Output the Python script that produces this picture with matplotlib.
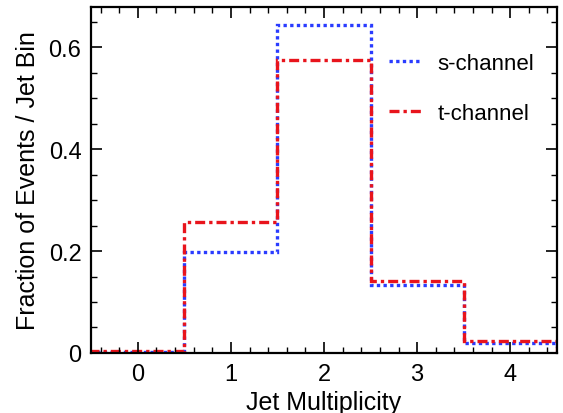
import matplotlib
matplotlib.use("Agg")
import matplotlib.pyplot as plt
import numpy as np
from matplotlib.ticker import MultipleLocator

plt.rcParams['font.family'] = ['Liberation Sans', 'DejaVu Sans']

jets = [0, 1, 2, 3, 4]
edges = [-0.5, 0.5, 1.5, 2.5, 3.5, 4.5]
s_channel = [0.002, 0.198, 0.644, 0.134, 0.020]
t_channel = [0.003, 0.257, 0.575, 0.141, 0.024]

fig = plt.figure(figsize=(5.63, 4.14), dpi=100)
ax = fig.add_axes([0.162, 0.145, 0.827, 0.836])

ax.stairs(s_channel, edges, color='#2a3cff', linestyle=(0, (1, 1)), linewidth=2.4, label='s-channel')
ax.stairs(t_channel, edges, color='#e8141c', linestyle=(0, (3, 1.2, 1, 1.2)), linewidth=2.4, label='t-channel')

ax.set_xlim(-0.5, 4.5)
ax.set_ylim(0, 0.679)
ax.set_xticks(jets)
ax.set_yticks([0, 0.2, 0.4, 0.6])
ax.set_yticklabels(['0', '0.2', '0.4', '0.6'])
ax.xaxis.set_minor_locator(MultipleLocator(0.2))
ax.yaxis.set_minor_locator(MultipleLocator(0.05))
ax.tick_params(which='both', direction='in', top=True, right=True, labelsize=17)
ax.tick_params(which='major', length=8, width=1.2)
ax.tick_params(which='minor', length=4, width=1)
ax.tick_params(axis='y', which='major', pad=7)
ax.tick_params(axis='x', which='major', pad=7)
for sp in ax.spines.values():
    sp.set_linewidth(1.6)

ax.set_xlabel('Jet Multiplicity', fontsize=18, labelpad=4)
ax.set_ylabel('Fraction of Events / Jet Bin', fontsize=18, labelpad=6)

leg = ax.legend(loc='upper right', bbox_to_anchor=(0.995, 0.925), frameon=False, fontsize=16,
                handlelength=1.5, labelspacing=1.3, handletextpad=0.7)

fig.savefig('out.png', dpi=100)
